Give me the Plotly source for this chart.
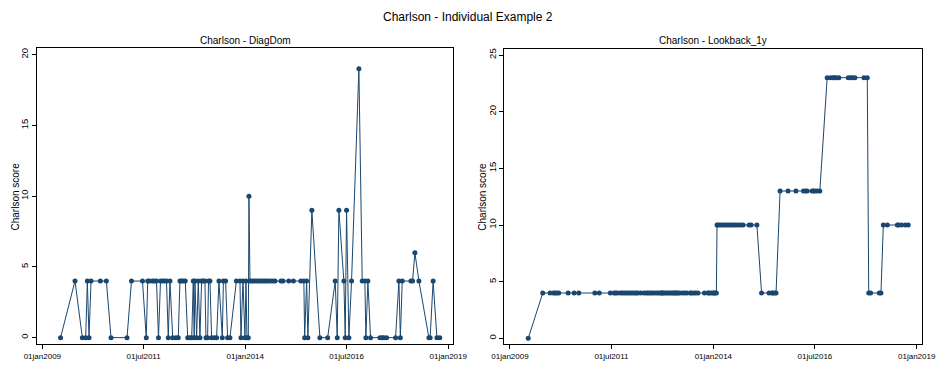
import plotly.graph_objects as go

# Visit dates shared by both panels
visit_dates = [
    "2009-06-14", "2009-10-22", "2009-12-27", "2010-01-26", "2010-02-10", "2010-02-25", "2010-03-15", "2010-06-07",
    "2010-07-31", "2010-09-11", "2011-02-02", "2011-03-14", "2011-06-21", "2011-07-25", "2011-08-07", "2011-08-23",
    "2011-09-19", "2011-10-07", "2011-10-25", "2011-11-12", "2011-11-30", "2011-12-18", "2012-01-05", "2012-01-23",
    "2012-02-08", "2012-02-23", "2012-03-19", "2012-04-17", "2012-05-08", "2012-05-23", "2012-06-08", "2012-06-24",
    "2012-07-10", "2012-08-01", "2012-08-19", "2012-09-06", "2012-09-20", "2012-09-28", "2012-10-05", "2012-10-20",
    "2012-11-04", "2012-11-19", "2012-12-04", "2012-12-19", "2013-01-03", "2013-01-12", "2013-01-27", "2013-02-04",
    "2013-02-17", "2013-03-04", "2013-03-28", "2013-04-18", "2013-05-09", "2013-06-08", "2013-06-18", "2013-07-08",
    "2013-07-26", "2013-08-16", "2013-10-13", "2013-11-14", "2013-11-23", "2013-12-11", "2013-12-29", "2014-01-07",
    "2014-01-16", "2014-01-28", "2014-02-03", "2014-02-12", "2014-03-02", "2014-03-20", "2014-04-07", "2014-04-25",
    "2014-05-13", "2014-05-31", "2014-06-18", "2014-07-06", "2014-07-24", "2014-08-15", "2014-09-07", "2014-09-25",
    "2014-11-18", "2014-12-06", "2015-01-27", "2015-03-10", "2015-05-16", "2015-06-12", "2015-06-19", "2015-07-07",
    "2015-07-18", "2015-08-23", "2015-11-03", "2016-01-12", "2016-03-20", "2016-04-07", "2016-04-22", "2016-06-06",
    "2016-06-18", "2016-06-30", "2016-07-21", "2016-08-14", "2016-10-19", "2016-11-18", "2016-12-12", "2016-12-21",
    "2017-01-08", "2017-02-01", "2017-04-26", "2017-05-17", "2017-06-01", "2017-06-25", "2017-09-14", "2017-10-14",
    "2017-10-27", "2017-11-13", "2018-01-30", "2018-02-14", "2018-03-07", "2018-04-12", "2018-07-11", "2018-07-22",
    "2018-08-18", "2018-09-21", "2018-10-17",
]

# Charlson score from the dominant diagnosis at each visit
diagdom_score = [
    0, 4, 0, 0, 4, 0, 4, 4,
    4, 0, 0, 4, 4, 0, 4, 4,
    4, 4, 4, 0, 4, 4, 4, 4,
    0, 4, 0, 0, 0, 4, 4, 4,
    4, 0, 0, 0, 4, 0, 4, 0,
    4, 0, 4, 4, 4, 0, 0, 4,
    4, 0, 0, 0, 4, 0, 4, 4,
    0, 0, 4, 4, 0, 4, 0, 4,
    0, 0, 10, 4, 4, 4, 4, 4,
    4, 4, 4, 4, 4, 4, 4, 4,
    4, 4, 4, 4, 4, 4, 0, 4,
    0, 9, 0, 0, 4, 0, 9, 4,
    0, 9, 0, 4, 19, 4, 4, 0,
    4, 0, 0, 0, 0, 0, 0, 4,
    0, 4, 4, 4, 6, 4, 0, 0,
    4, 0, 0,
]

# Charlson score with a one-year lookback window
lookback_score = [
    0, 4, 4, 4, 4, 4, 4, 4,
    4, 4, 4, 4, 4, 4, 4, 4,
    4, 4, 4, 4, 4, 4, 4, 4,
    4, 4, 4, 4, 4, 4, 4, 4,
    4, 4, 4, 4, 4, 4, 4, 4,
    4, 4, 4, 4, 4, 4, 4, 4,
    4, 4, 4, 4, 4, 4, 4, 4,
    4, 4, 4, 4, 4, 4, 4, 4,
    4, 4, 10, 10, 10, 10, 10, 10,
    10, 10, 10, 10, 10, 10, 10, 10,
    10, 10, 10, 4, 4, 4, 4, 4,
    4, 13, 13, 13, 13, 13, 13, 13,
    13, 13, 13, 13, 23, 23, 23, 23,
    23, 23, 23, 23, 23, 23, 23, 23,
    4, 4, 4, 4, 10, 10, 10, 10,
    10, 10, 10,
]

x_tick_dates = ["2009-01-01", "2011-07-01", "2014-01-01", "2016-07-01", "2019-01-01"]
x_tick_labels = ["01jan2009", "01jul2011", "01jan2014", "01jul2016", "01jan2019"]
left_y_ticks = [0, 5, 10, 15, 20]
right_y_ticks = [0, 5, 10, 15, 20, 25]

main_title = "Charlson - Individual Example 2"
panel_titles = ["Charlson - DiagDom", "Charlson - Lookback_1y"]
y_title = "Charlson score"

W, H = 936, 365
NAVY = "#1a476f"
FONT = "Liberation Sans, Arial, sans-serif"

def px(x):
    return x / W

def py(y):
    return 1 - y / H

fig = go.Figure()
for i, (vals, xa, ya) in enumerate([(diagdom_score, "x", "y"), (lookback_score, "x2", "y2")]):
    fig.add_trace(go.Scatter(
        x=visit_dates, y=vals, xaxis=xa, yaxis=ya, mode="lines+markers",
        line=dict(color=NAVY, width=1),
        marker=dict(color=NAVY, size=5, line=dict(width=0)),
        showlegend=False, hoverinfo="x+y",
    ))

common_x = dict(
    type="date", tickmode="array", tickvals=x_tick_dates, ticktext=x_tick_labels,
    showgrid=False, zeroline=False, showline=True, linecolor="#000000", linewidth=1,
    mirror=True, ticks="outside", ticklen=4, tickwidth=1, tickcolor="#000000",
    tickfont=dict(family=FONT, size=8, color="#000000"), automargin=False,
)
common_y = dict(
    showgrid=False, zeroline=False, showline=True, linecolor="#000000", linewidth=1,
    mirror=True, ticks="outside", ticklen=4, tickwidth=1, tickcolor="#000000",
    tickangle=-90, tickfont=dict(family=FONT, size=9.5, color="#000000"),
    automargin=False, tickmode="array",
)

fig.update_layout(
    width=W, height=H,
    margin=dict(l=0, r=0, t=0, b=0),
    paper_bgcolor="white", plot_bgcolor="white",
    font=dict(family=FONT, color="#000000"),
    xaxis=dict(common_x, domain=[px(37), px(452.7)], range=["2008-11-14", "2019-02-10"], anchor="y"),
    yaxis=dict(common_y, domain=[py(344), py(48)], range=[-0.45, 20.47], tickvals=left_y_ticks, anchor="x"),
    xaxis2=dict(common_x, domain=[px(504.3), px(922.3)], range=["2008-11-11", "2019-02-20"], anchor="y2"),
    yaxis2=dict(common_y, domain=[py(344), py(49)], range=[-0.5, 25.53], tickvals=right_y_ticks, anchor="x2"),
)

annotations = [
    dict(text=main_title, x=px(468), y=py(17), font=dict(size=12)),
    dict(text=panel_titles[0], x=px(245), y=py(41), font=dict(size=10)),
    dict(text=panel_titles[1], x=px(713), y=py(41), font=dict(size=10)),
    dict(text=y_title, x=px(14.5), y=py(197), textangle=-90, font=dict(size=10)),
    dict(text=y_title, x=px(481.7), y=py(197), textangle=-90, font=dict(size=10)),
]
for a in annotations:
    a.update(xref="paper", yref="paper", showarrow=False, xanchor="center", yanchor="middle")
    a["font"].update(family=FONT, color="#000000")
fig.update_layout(annotations=annotations)

fig.write_html("out.html")
